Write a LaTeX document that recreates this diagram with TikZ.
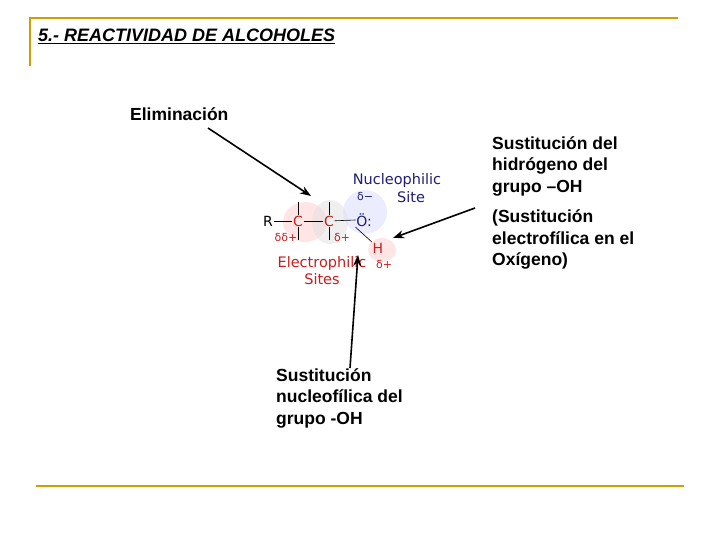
\documentclass[tikz,border=0pt]{standalone}
\usepackage{fontspec}
\setmainfont{Liberation Sans}
\newfontfamily\dv{DejaVu Sans}
\usetikzlibrary{arrows.meta}
\definecolor{gold}{RGB}{204,160,0}
\definecolor{navy}{RGB}{30,30,120}
\definecolor{dred}{RGB}{200,30,30}
\begin{document}
\begin{tikzpicture}[x=1pt,y=-1pt,
  lab/.style={font=\bfseries\fontsize{17.5}{21.5}\selectfont,anchor=west,align=left,inner sep=0},
  mol/.style={font=\dv\fontsize{14}{15}\selectfont,inner sep=0.5},
  big/.style={font=\dv\fontsize{14.5}{15}\selectfont},
  arr/.style={line width=1.6pt,-{Stealth[length=11pt,width=8pt]}},
  bond/.style={line width=0.6pt}]
\useasboundingbox (0,0) rectangle (720,540);
\draw[gold,line width=2pt] (30,66) -- (30,18) -- (678,18);
\draw[gold,line width=2pt] (36,486) -- (684,486);
\node[font=\bfseries\itshape\fontsize{18}{20}\selectfont,anchor=west,inner sep=0] (title) at (38,36) {\underline{5.- REACTIVIDAD DE ALCOHOLES}};
% shaded blobs
\fill[red!25,opacity=0.4] (305,222) ellipse (22 and 20);
\fill[gray!25,opacity=0.5] (330,222) ellipse (18 and 22);
\fill[blue!15,opacity=0.5] (365,212) ellipse (22 and 22);
\fill[red!20,opacity=0.5] (382,250) ellipse (14 and 12);
% molecule
\node[mol] (R) at (268,221) {R};
\node[mol,text=dred] (C1) at (298,221) {C};
\node[mol,text=dred] (C2) at (329,221) {C};
\node[mol,text=navy] (O) at (364,220) {Ö:};
\node[mol,text=dred] (H) at (378,248) {H};
\draw[bond] (R) -- (C1); \draw[bond] (C1) -- (C2); \draw[bond] (C2) -- (O.west);
\draw[bond] (C1.north) -- ++(0,-13); \draw[bond] (C1.south) -- ++(0,13);
\draw[bond] (C2.north) -- ++(0,-13); \draw[bond] (C2.south) -- ++(0,13);
\draw[bond] (O.south west) -- (H.north west);
\node[mol,text=dred,font=\dv\fontsize{11}{12}\selectfont] (d1) at (286,237) {δδ+};
\node[mol,text=dred,font=\dv\fontsize{11}{12}\selectfont] (d2) at (342,237) {δ+};
\node[mol,text=dred,font=\dv\fontsize{11}{12}\selectfont] (d3) at (384,264) {δ+};
\node[mol,text=navy,font=\dv\fontsize{11}{12}\selectfont] (d4) at (365,196) {δ−};
\node[mol,text=navy,big] (nuc) at (397,181) {Nucleophilic};
\node[mol,text=navy,big] (site) at (411,197) {Site};
\node[mol,text=dred,big] (el) at (322,263) {Electrophilic};
\node[mol,text=dred,big] (sites) at (322,279) {Sites};
% labels
\node[lab] (elim) at (130,114) {Eliminación};
\node[lab,anchor=north west] (sust1) at (492,136) {Sustitución del\\hidrógeno del\\grupo –OH\\[9pt](Sustitución\\electrofílica en el\\Oxígeno)};
\node[lab,anchor=north west] (sust2) at (276,368) {Sustitución\\nucleofílica del\\grupo -OH};
\coordinate (a1) at (208,128); \coordinate (b1) at (311,196);
\coordinate (a2) at (475,208); \coordinate (b2) at (393,238);
\coordinate (a3) at (350,368); \coordinate (b3) at (358,255);
\draw[arr] (a1) -- (b1);
\draw[arr] (a2) -- (b2);
\draw[arr] (a3) -- (b3);
\end{tikzpicture}
\end{document}
